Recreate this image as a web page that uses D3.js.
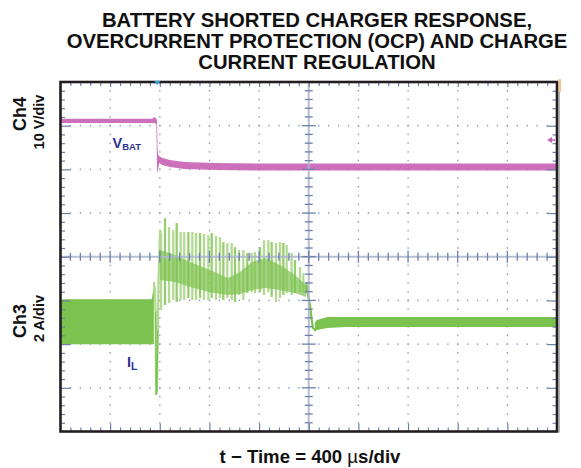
<!DOCTYPE html>
<html><head><meta charset="utf-8">
<script src="https://cdn.jsdelivr.net/npm/d3@7"></script>
<style>body{margin:0;background:#fff}svg{display:block}text{font-family:"Liberation Sans",Arial,Helvetica,sans-serif}</style>
</head><body><svg id="c" width="581" height="468"></svg>
<script>
// ---------- text ----------
const titleLines = ["BATTERY SHORTED CHARGER RESPONSE,", "OVERCURRENT PROTECTION (OCP) AND CHARGE", "CURRENT REGULATION"];
const ch4Labels = ["Ch4", "10 V/div"];
const ch3Labels = ["Ch3", "2 A/div"];
const xLabelParts = ["t \u2212 Time = 400 ", "\u00b5", "s/div"];

// ---------- scope settings ----------
const timeRangeUs = [0, 4000];      // 10 div x 400 us
const timeMajorUs = 400, timeMinorUs = 80;
const divRange = [-4, 4];           // 8 vertical divisions
const ch4VoltRange = [-60, 20];     // 10 V/div, ground at +2 div
const ch3AmpRange = [0, 16];        // 2 A/div, ground at -4 div
const ch4MarkerV = 6.7;             // Ch4 reference arrow level

// ---------- Ch4 : V_BAT (peak-detect envelope, volts) ----------
const vbatT   = [0, 740, 755, 772, 778, 782, 788, 795, 820, 880, 1000, 1250, 1600, 4000];
const vbatMax = [11.57, 11.57, 11.98, 11.64, 11.07, 4.43, 3.28, 3.06, 2.60, 2.14, 1.68, 1.45, 1.34, 1.34];
const vbatMin = [10.61, 10.61, 10.61, 10.38, -0.60, -0.60, 0.31, 1.45, 0.99, 0.54, 0.08, -0.15, -0.26, -0.26];

// ---------- Ch3 : I_L (amps) ----------
const ilPreT   = [0, 735, 745, 752];
const ilPreMax = [6.06, 6.06, 6.40, 6.84];
const ilPreMin = [3.99, 3.99, 3.99, 3.99];

const ilSpikeT = [752, 760, 766, 771, 777, 784, 790, 802, 810];
const ilSpikeA = [6.84, 6.50, 5.50, 1.67, 1.90, 4.65, 6.93, 9.22, 9.09];

const ilBarT   = [810, 842, 874, 909, 936, 968, 997, 1030, 1062, 1092, 1124, 1156, 1191, 1218, 1253, 1285, 1312, 1344, 1379, 1406, 1438, 1473, 1505, 1540, 1567, 1607, 1639, 1674, 1701, 1736, 1768, 1795, 1822, 1862, 1889, 1929, 1956, 1983];
const ilBarMax = [9.09, 9.77, 9.36, 9.22, 9.54, 9.13, 9.13, 9.13, 9.13, 9.09, 9.09, 9.04, 8.99, 9.09, 8.95, 8.90, 8.67, 8.63, 8.63, 8.44, 8.31, 8.31, 8.17, 8.17, 8.22, 8.44, 8.76, 8.76, 8.67, 8.63, 8.67, 8.63, 8.54, 8.17, 7.85, 7.53, 7.25, 6.84];
const ilBarMin = [5.56, 5.79, 5.88, 6.02, 5.93, 6.02, 6.02, 6.11, 6.02, 6.02, 6.11, 6.02, 6.02, 6.11, 6.02, 6.11, 6.02, 6.11, 6.02, 5.93, 6.25, 6.02, 6.34, 6.38, 6.34, 6.38, 6.25, 6.38, 6.16, 5.93, 6.11, 6.25, 6.34, 6.25, 6.34, 6.38, 6.34, 6.34];

const ilCoreT  = [802, 922, 1043, 1204, 1349, 1446, 1543, 1648, 1768, 1889, 1978];
const ilCoreHi = [8.31, 8.08, 7.76, 7.39, 7.03, 7.30, 7.76, 7.94, 7.62, 7.16, 6.71];
const ilCoreLo = [6.93, 6.84, 6.61, 6.38, 6.25, 6.29, 6.48, 6.57, 6.48, 6.34, 6.16];

const ilFallT = [1978, 1994, 2010, 2022, 2034, 2050, 2066];
const ilFallA = [6.71, 6.25, 5.79, 5.19, 4.74, 4.65, 4.83];

const ilPostT   = [2050, 2066, 2150, 2300, 4000];
const ilPostMax = [5.00, 5.10, 5.24, 5.24, 5.24];
const ilPostMin = [4.60, 4.65, 4.74, 4.78, 4.78];

// ---------- drawing ----------
const svg = d3.select("#c");
svg.append("rect").attr("width", 581).attr("height", 468).attr("fill", "#fff");

const x = d3.scaleLinear().domain(timeRangeUs).range([60.5, 557]);
const yDiv = d3.scaleLinear().domain(divRange).range([431.5, 82]);
const yV = d3.scaleLinear().domain(ch4VoltRange).range([431.5, 82]);
const yA = d3.scaleLinear().domain(ch3AmpRange).range([431.5, 82]);

const GREEN = "#7cc24e", LGREEN = "#b2db91", PINK = "#c964b5", NAVY = "#2e3192";
const GRID = "#8d9cc2", TICK = "#6e80a9", CENTER = "#aeb9d0";

// title
const title = svg.append("text").attr("text-anchor", "middle").attr("font-weight", "bold")
  .attr("font-size", 20.3).attr("fill", "#111");
titleLines.forEach((t, i) => title.append("tspan").attr("x", 317).attr("y", 26.5 + i * 21).text(t));

// dotted graticule
const majorT = d3.range(timeRangeUs[0], timeRangeUs[1] + 1, timeMajorUs);
const minorT = d3.range(timeRangeUs[0], timeRangeUs[1] + 1, timeMinorUs);
const majorD = d3.range(-4, 4.001, 1);
const minorD = d3.range(0, 41).map(i => -4 + i * 0.2);
const g = svg.append("g");
const dots = [];
majorT.slice(1, -1).forEach(t => { if (t !== 2000) minorD.slice(1, -1).forEach(d => dots.push([x(t), yDiv(d)])); });
majorD.slice(1, -1).forEach(d => { if (d !== 0) minorT.slice(1, -1).forEach(t => dots.push([x(t), yDiv(d)])); });
g.selectAll("rect.dot").data(dots).join("rect").attr("class", "dot")
  .attr("x", d => d[0] - 0.6).attr("y", d => d[1] - 0.8).attr("width", 1.3).attr("height", 1.6).attr("fill", GRID);

// traces: Ch4
svg.append("path").datum(vbatT.map((t, i) => [t, vbatMin[i], vbatMax[i]]))
  .attr("fill", PINK).attr("opacity", 0.92)
  .attr("d", d3.area().x(d => x(d[0])).y0(d => yV(d[1])).y1(d => yV(d[2])));

// traces: Ch3
const area = d3.area().x(d => x(d[0])).y0(d => yA(d[1])).y1(d => yA(d[2]));
svg.append("path").datum(ilPreT.map((t, i) => [t, ilPreMin[i], ilPreMax[i]])).attr("fill", GREEN).attr("d", area);
svg.append("path").datum(ilSpikeT.map((t, i) => [t, ilSpikeA[i]])).attr("fill", "none")
  .attr("stroke", LGREEN).attr("stroke-width", 2.2)
  .attr("d", d3.line().x(d => x(d[0])).y(d => yA(d[1])));
svg.append("path").datum(ilSpikeT.slice(2, 6).map((t, i) => [t, ilSpikeA[i + 2]])).attr("fill", "none")
  .attr("stroke", GREEN).attr("stroke-width", 1.2)
  .attr("d", d3.line().x(d => x(d[0])).y(d => yA(d[1])));
svg.selectAll("line.bar").data(ilBarT.map((t, i) => [t, ilBarMin[i], ilBarMax[i]])).join("line").attr("class", "bar")
  .attr("x1", d => x(d[0])).attr("x2", d => x(d[0])).attr("y1", d => yA(d[1])).attr("y2", d => yA(d[2]))
  .attr("stroke", (d, i) => i % 3 === 1 ? "#97cc70" : LGREEN).attr("stroke-width", 2.3);
svg.append("path").datum(ilCoreT.map((t, i) => [t, ilCoreLo[i], ilCoreHi[i]])).attr("fill", GREEN).attr("opacity", 0.7).attr("d", area);
svg.append("path").datum(ilFallT.map((t, i) => [t, ilFallA[i]])).attr("fill", "none")
  .attr("stroke", GREEN).attr("stroke-width", 2.2)
  .attr("d", d3.line().x(d => x(d[0])).y(d => yA(d[1])));
svg.append("path").datum(ilPostT.map((t, i) => [t, ilPostMin[i], ilPostMax[i]])).attr("fill", GREEN).attr("d", area);

// center cross
const cx = x(2000), cy = yDiv(0);
svg.append("line").attr("x1", x(0)).attr("x2", x(4000)).attr("y1", cy).attr("y2", cy)
  .attr("stroke", CENTER).attr("stroke-width", 2).attr("opacity", 0.9);
svg.append("line").attr("y1", yDiv(4)).attr("y2", yDiv(-4)).attr("x1", cx).attr("x2", cx)
  .attr("stroke", CENTER).attr("stroke-width", 2).attr("opacity", 0.9);
svg.selectAll("line.ctx").data(minorT.slice(1, -1)).join("line").attr("class", "ctx")
  .attr("x1", d => x(d)).attr("x2", d => x(d))
  .attr("y1", d => cy - (d % timeMajorUs === 0 ? 6 : 4)).attr("y2", d => cy + (d % timeMajorUs === 0 ? 6 : 4))
  .attr("stroke", TICK).attr("stroke-width", 1.3);
svg.selectAll("line.cty").data(minorD.slice(1, -1)).join("line").attr("class", "cty")
  .attr("y1", d => yDiv(d)).attr("y2", d => yDiv(d))
  .attr("x1", d => cx - (Math.abs(d - Math.round(d)) < 1e-6 ? 7 : 4)).attr("x2", d => cx + (Math.abs(d - Math.round(d)) < 1e-6 ? 7 : 4))
  .attr("stroke", TICK).attr("stroke-width", 1.3);

// border ticks via d3 axes (inward)
function edgeAxis(axisFn, scale, vals, size, tr) {
  const a = svg.append("g").attr("transform", tr)
    .call(axisFn(scale).tickValues(vals).tickSize(size).tickFormat(""));
  a.select(".domain").remove();
  a.selectAll("line").attr("stroke", TICK).attr("stroke-width", 1.2);
}
const minT = minorT.filter(t => t % timeMajorUs !== 0), majT = majorT.slice(1, -1);
const minD = minorD.filter(d => Math.abs(d - Math.round(d)) > 1e-6), majD = majorD.slice(1, -1);
edgeAxis(d3.axisBottom, x, minT, -4, `translate(0,${yDiv(-4)})`);
edgeAxis(d3.axisBottom, x, majT, -8, `translate(0,${yDiv(-4)})`);
edgeAxis(d3.axisTop, x, minT, -4, `translate(0,${yDiv(4)})`);
edgeAxis(d3.axisTop, x, majT, -5, `translate(0,${yDiv(4)})`);
edgeAxis(d3.axisLeft, yDiv, minD, -4.5, `translate(${x(0)},0)`);
edgeAxis(d3.axisLeft, yDiv, majD, -10, `translate(${x(0)},0)`);
edgeAxis(d3.axisRight, yDiv, minD, -4.5, `translate(${x(4000)},0)`);
edgeAxis(d3.axisRight, yDiv, majD, -10, `translate(${x(4000)},0)`);

// border
svg.append("rect").attr("x", x(0)).attr("y", yDiv(4)).attr("width", x(4000) - x(0)).attr("height", yDiv(-4) - yDiv(4))
  .attr("fill", "none").attr("stroke", "#231f20").attr("stroke-width", 2.6);
svg.append("line").attr("x1", x(4000) + 2).attr("x2", x(4000) + 2).attr("y1", yDiv(4)).attr("y2", yDiv(-4) + 1)
  .attr("stroke", "#999").attr("stroke-width", 1.5);

// markers
svg.append("path").attr("d", `M${x(780) - 3},${yDiv(4) - 1}L${x(780) + 3},${yDiv(4) - 1}L${x(780)},${yDiv(4) + 3}Z`).attr("fill", "#2aa8e0");
const my = yV(ch4MarkerV);
svg.append("path").attr("d", `M${x(3920)},${my}L${x(3920) + 5},${my - 3}L${x(3920) + 5},${my + 3}Z`).attr("fill", PINK);
svg.append("line").attr("x1", x(3920) + 4).attr("x2", x(4000) - 2).attr("y1", my).attr("y2", my).attr("stroke", PINK).attr("stroke-width", 1.5);
svg.append("rect").attr("x", x(4000) + 1.5).attr("y", 79).attr("width", 2.5).attr("height", 13).attr("fill", "#f2c48c");

// channel labels
function rotLabel(txt, px, py, size) {
  svg.append("text").attr("transform", `translate(${px},${py}) rotate(-90)`).attr("text-anchor", "middle")
    .attr("font-weight", "bold").attr("font-size", size).attr("fill", "#111").text(txt);
}
rotLabel(ch4Labels[0], 25.5, 114, 18);
rotLabel(ch4Labels[1], 43.5, 122, 14.5);
rotLabel(ch3Labels[0], 25.5, 321, 18);
rotLabel(ch3Labels[1], 43.5, 318.5, 14.5);

// trace labels
const vl = svg.append("text").attr("x", 112.5).attr("y", 147.5).attr("fill", NAVY).attr("font-weight", "bold").attr("font-size", 14.5);
vl.append("tspan").text("V");
vl.append("tspan").attr("font-size", 9.5).attr("dy", 2.5).text("BAT");
const il = svg.append("text").attr("x", 127).attr("y", 367).attr("fill", NAVY).attr("font-weight", "bold").attr("font-size", 14.5);
il.append("tspan").text("I");
il.append("tspan").attr("font-size", 10.5).attr("dy", 3).text("L");

// x label
const xl = svg.append("text").attr("x", 310).attr("y", 463).attr("text-anchor", "middle")
  .attr("font-weight", "bold").attr("font-size", 18.6).attr("fill", "#111");
xl.append("tspan").text(xLabelParts[0]);
xl.append("tspan").attr("font-weight", "normal").text(xLabelParts[1]);
xl.append("tspan").text(xLabelParts[2]);
</script></body></html>
